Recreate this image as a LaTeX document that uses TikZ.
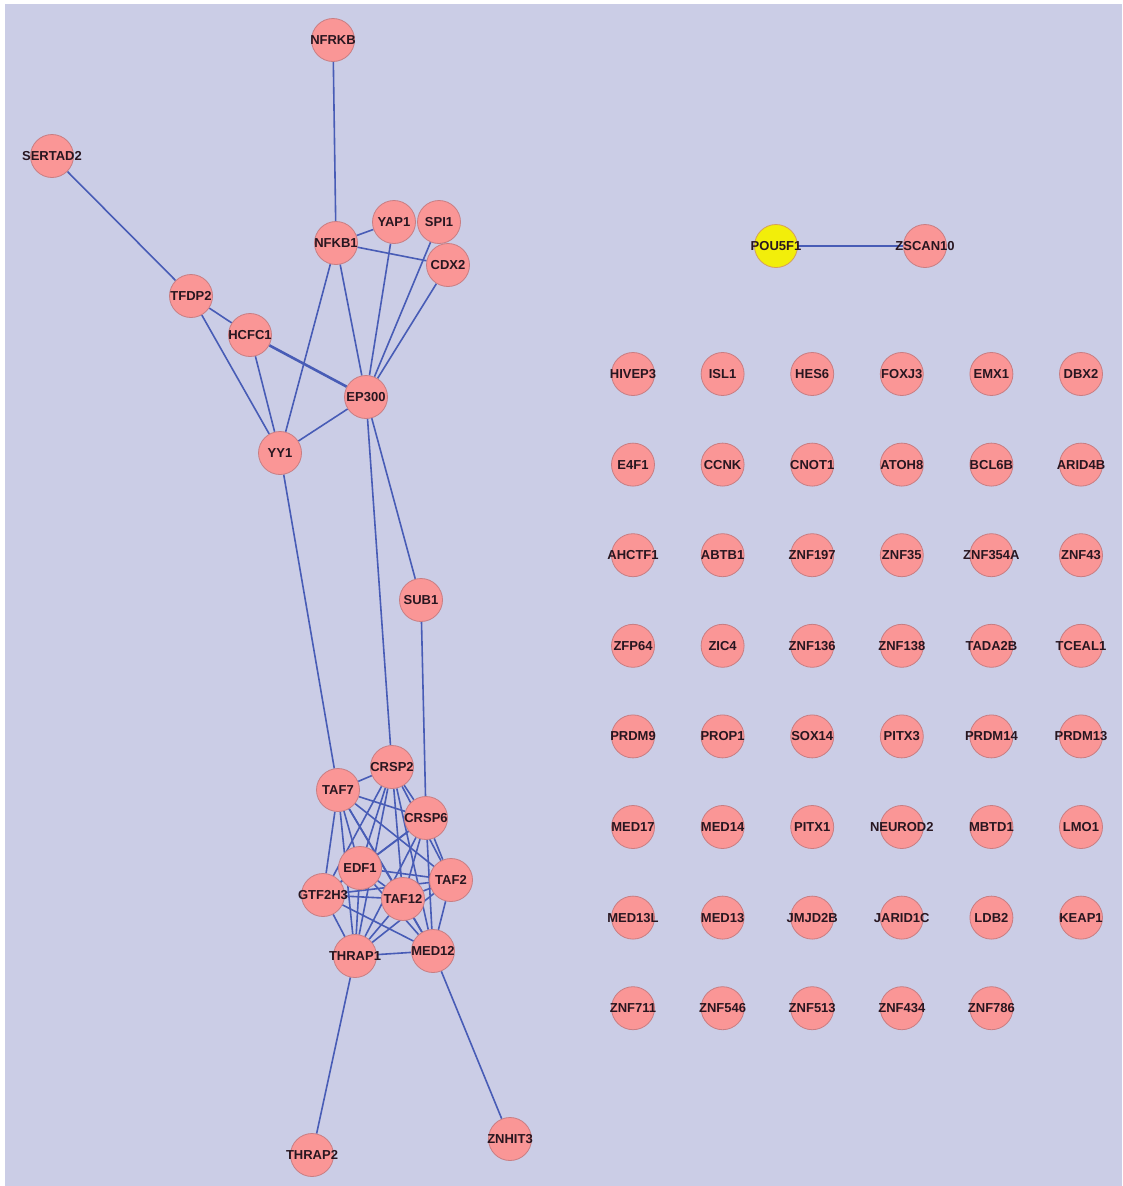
\documentclass[tikz,border=0pt]{standalone}
\usepackage{fontspec}
\setmainfont{Liberation Sans}
\pgfdeclarelayer{bgl}
\pgfdeclarelayer{edgel}
\pgfsetlayers{bgl,edgel,main}
\definecolor{bgc}{RGB}{203,205,230}
\definecolor{nodefill}{RGB}{250,150,150}
\definecolor{nodeline}{RGB}{200,125,130}
\definecolor{edgec}{RGB}{72,92,182}
\definecolor{yel}{RGB}{242,238,10}
\definecolor{txt}{RGB}{40,22,32}
\newcommand\gtxt[1]{\makebox[0pt]{#1}}
\tikzset{
  gene/.style={circle, draw=nodeline, line width=0.8pt, fill=nodefill, minimum size=43pt, inner sep=0pt,
    font=\fontsize{13}{13}\selectfont\bfseries, text=txt},
  seed/.style={gene, fill=yel, draw=nodeline!70!yel},
  link/.style={draw=edgec, line width=1.6pt},
}
\begin{document}
\begin{tikzpicture}[x=1pt,y=-1pt]
\useasboundingbox (0,0) rectangle (1122,1186);
\begin{pgfonlayer}{bgl}
\fill[white] (0,0) rectangle (1122,1186);
\fill[bgc] (5,4) rectangle (1122,1186);
\end{pgfonlayer}
% left network
\foreach \n/\x/\y in {NFRKB/333/40, SERTAD2/52/156, NFKB1/336/243, YAP1/394/222, SPI1/439/222,
  CDX2/448/265, TFDP2/191/296, HCFC1/250/335, EP300/366/397, YY1/280/453, SUB1/421/600,
  CRSP2/392/767, TAF7/338/790, CRSP6/426/818, EDF1/360/868, TAF2/451/880, GTF2H3/323/895,
  TAF12/403/899, THRAP1/355/956, MED12/433/951, THRAP2/312/1155, ZNHIT3/510/1139, ZSCAN10/925/246}
  \node[gene] (\n) at (\x,\y) {\gtxt{\n}};
% seed node
\node[seed] (POU5F1) at (776,246) {\gtxt{POU5F1}};
% grid of isolated genes
\foreach \lab [count=\i from 0] in {HIVEP3,ISL1,HES6,FOXJ3,EMX1,DBX2,
  E4F1,CCNK,CNOT1,ATOH8,BCL6B,ARID4B,
  AHCTF1,ABTB1,ZNF197,ZNF35,ZNF354A,ZNF43,
  ZFP64,ZIC4,ZNF136,ZNF138,TADA2B,TCEAL1,
  PRDM9,PROP1,SOX14,PITX3,PRDM14,PRDM13,
  MED17,MED14,PITX1,NEUROD2,MBTD1,LMO1,
  MED13L,MED13,JMJD2B,JARID1C,LDB2,KEAP1,
  ZNF711,ZNF546,ZNF513,ZNF434,ZNF786}{
  \pgfmathtruncatemacro{\col}{mod(\i,6)}
  \pgfmathtruncatemacro{\row}{div(\i,6)}
  \node[gene] (\lab) at ({633+89.6*\col},{374+90.6*\row}) {\gtxt{\lab}};
}
\begin{pgfonlayer}{edgel}
\foreach \a/\b in {NFRKB/NFKB1, SERTAD2/TFDP2, NFKB1/YAP1, NFKB1/CDX2, NFKB1/EP300, NFKB1/YY1,
  YAP1/EP300, SPI1/EP300, CDX2/EP300, TFDP2/HCFC1, TFDP2/YY1, HCFC1/YY1, EP300/YY1,
  EP300/CRSP2, EP300/SUB1, SUB1/CRSP6, YY1/TAF7, THRAP1/THRAP2, MED12/ZNHIT3, POU5F1/ZSCAN10}
  \draw[link] (\a) -- (\b);
\draw[link, line width=2.6pt] (HCFC1) -- (EP300);
\foreach \a/\b in {TAF7/CRSP2, TAF7/CRSP6, TAF7/EDF1, TAF7/TAF2, TAF7/GTF2H3, TAF7/TAF12, TAF7/THRAP1, TAF7/MED12,
  CRSP2/CRSP6, CRSP2/EDF1, CRSP2/TAF2, CRSP2/GTF2H3, CRSP2/TAF12, CRSP2/THRAP1, CRSP2/MED12,
  CRSP6/EDF1, CRSP6/TAF2, CRSP6/GTF2H3, CRSP6/TAF12, CRSP6/THRAP1, CRSP6/MED12,
  EDF1/TAF2, EDF1/GTF2H3, EDF1/TAF12, EDF1/THRAP1, EDF1/MED12,
  TAF2/GTF2H3, TAF2/TAF12, TAF2/THRAP1, TAF2/MED12,
  GTF2H3/TAF12, GTF2H3/THRAP1, GTF2H3/MED12,
  TAF12/THRAP1, TAF12/MED12, THRAP1/MED12}
  \draw[link] (\a) -- (\b);
\end{pgfonlayer}
\end{tikzpicture}
\end{document}
